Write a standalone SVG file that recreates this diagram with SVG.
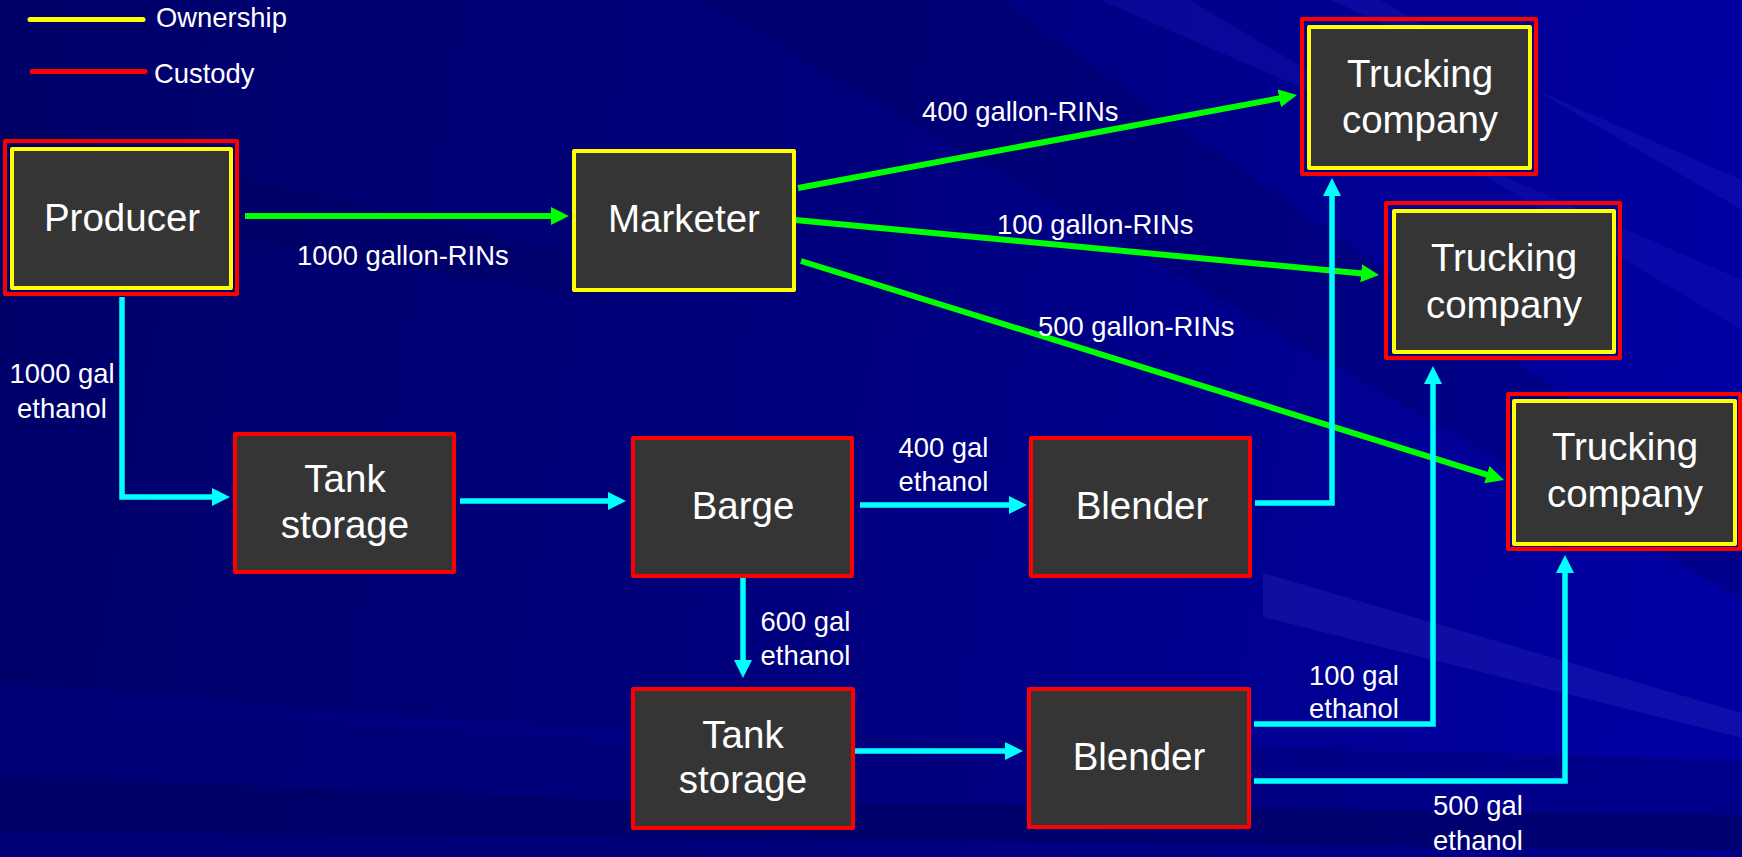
<svg xmlns="http://www.w3.org/2000/svg" width="1742" height="857" viewBox="0 0 1742 857">
<defs>
<linearGradient id="bg" x1="0" y1="0" x2="1742" y2="300" gradientUnits="userSpaceOnUse">
<stop offset="0" stop-color="#000068"/>
<stop offset="0.5" stop-color="#00007e"/>
<stop offset="1" stop-color="#0000a2"/>
</linearGradient>
<marker id="ag" markerUnits="userSpaceOnUse" markerWidth="18" markerHeight="18" refX="4" refY="9" orient="auto"><path d="M0,0 L18,9 L0,18 z" fill="#00ff00"/></marker>
<marker id="ac" markerUnits="userSpaceOnUse" markerWidth="18" markerHeight="18" refX="4" refY="9" orient="auto"><path d="M0,0 L18,9 L0,18 z" fill="#00ffff"/></marker>
<style>
.box{fill:#353535;}
.red{fill:none;stroke:#ff0000;stroke-width:4;stroke-linejoin:round;}
.yel{stroke:#ffff00;stroke-width:4;stroke-linejoin:round;}
.nt{font-family:"Liberation Sans",Arial,sans-serif;font-size:38.5px;fill:#ffffff;text-anchor:middle;}
.lt{font-family:"Liberation Sans",Arial,sans-serif;font-size:27.4px;fill:#ffffff;}
.mid{text-anchor:middle;}
.g{fill:none;stroke:#00ff00;stroke-width:6;marker-end:url(#ag);}
.c{fill:none;stroke:#00ffff;stroke-width:5.5;marker-end:url(#ac);}
</style>
</defs>
<g id="background">
<rect x="0" y="0" width="1742" height="857" fill="url(#bg)"/>
<polygon points="0,700 600,730 1742,760 1742,857 0,857" fill="#00007c" opacity="0.6"/>
<polygon points="0,776 600,799 1742,815 1742,850 600,837 0,832" fill="#000060" opacity="0.6"/>
<polygon points="0,682 600,730 1742,790 1742,800 600,740 0,700" fill="#0000a0" opacity="0.2"/>
<polygon points="1263,573 1742,713 1742,738 1263,617" fill="#3030c0" opacity="0.3"/>
<polygon points="1100,0 1190,0 1742,330 1742,280" fill="#2020c8" opacity="0.25"/>
<polygon points="1330,0 1380,0 1742,210 1742,180" fill="#2828d0" opacity="0.25"/>
<polygon points="700,0 1000,0 1742,520 1742,600" fill="#000050" opacity="0.25"/>
<polygon points="0,120 600,260 600,300 0,200" fill="#000050" opacity="0.2"/>
</g>
<g id="legend">
<line x1="30" y1="19.5" x2="143" y2="19.5" stroke="#ffff00" stroke-width="5" stroke-linecap="round"/>
<text class="lt" x="156" y="27">Ownership</text>
<line x1="32" y1="71.5" x2="145" y2="71.5" stroke="#ff0000" stroke-width="5" stroke-linecap="round"/>
<text class="lt" x="154" y="83">Custody</text>
</g>
<g id="connectors">
<line class="g" x1="245" y1="216" x2="555" y2="216"/>
<line class="g" x1="798" y1="188" x2="1283.2" y2="97.6"/>
<line class="g" x1="795" y1="220" x2="1365.1" y2="273.7"/>
<line class="g" x1="801" y1="261" x2="1490.6" y2="475.8"/>
<path class="c" d="M122,297 V497 H216"/>
<line class="c" x1="460" y1="501" x2="612" y2="501"/>
<line class="c" x1="860" y1="505" x2="1013" y2="505"/>
<line class="c" x1="743" y1="578" x2="743" y2="664"/>
<line class="c" x1="855" y1="751" x2="1009" y2="751"/>
<path class="c" d="M1255,503 H1332 V192"/>
<path class="c" d="M1254,724 H1433 V380"/>
<path class="c" d="M1254,781 H1565 V569"/>
</g>
<g id="labels">
<text class="lt" x="297" y="265">1000 gallon-RINs</text>
<text class="lt" x="922" y="121">400 gallon-RINs</text>
<text class="lt" x="997" y="234">100 gallon-RINs</text>
<text class="lt" x="1038" y="336">500 gallon-RINs</text>
<text class="lt mid" x="62" y="383">1000 gal</text>
<text class="lt mid" x="62" y="418">ethanol</text>
<text class="lt mid" x="943.5" y="457">400 gal</text>
<text class="lt mid" x="943.5" y="491">ethanol</text>
<text class="lt mid" x="805.5" y="631">600 gal</text>
<text class="lt mid" x="805.5" y="665">ethanol</text>
<text class="lt mid" x="1354" y="685">100 gal</text>
<text class="lt mid" x="1354" y="718">ethanol</text>
<text class="lt mid" x="1478" y="815">500 gal</text>
<text class="lt mid" x="1478" y="850">ethanol</text>
</g>
<g id="producer">
<rect class="red" x="5" y="141" width="232" height="153"/>
<rect class="box yel" x="12" y="149" width="219" height="139"/>
<text class="nt" x="122" y="231">Producer</text>
</g>
<g id="marketer">
<rect class="box yel" x="574" y="151" width="220" height="139"/>
<text class="nt" x="684" y="232">Marketer</text>
</g>
<g id="trucking1">
<rect class="red" x="1302" y="19" width="234" height="155"/>
<rect class="box yel" x="1309" y="27" width="221" height="141"/>
<text class="nt" x="1420" y="87">Trucking</text>
<text class="nt" x="1420" y="133">company</text>
</g>
<g id="trucking2">
<rect class="red" x="1386" y="203" width="234" height="155"/>
<rect class="box yel" x="1394" y="211" width="220" height="141"/>
<text class="nt" x="1504" y="271">Trucking</text>
<text class="nt" x="1504" y="318">company</text>
</g>
<g id="trucking3">
<rect class="red" x="1508" y="394" width="232" height="155"/>
<rect class="box yel" x="1514" y="401" width="221" height="143"/>
<text class="nt" x="1625" y="460">Trucking</text>
<text class="nt" x="1625" y="507">company</text>
</g>
<g id="tank1">
<rect class="box red" x="235" y="434" width="219" height="138" style="fill:#353535"/>
<text class="nt" x="345" y="492">Tank</text>
<text class="nt" x="345" y="538">storage</text>
</g>
<g id="barge">
<rect class="box red" x="633" y="438" width="219" height="138" style="fill:#353535"/>
<text class="nt" x="743" y="519">Barge</text>
</g>
<g id="blender1">
<rect class="box red" x="1031" y="438" width="219" height="138" style="fill:#353535"/>
<text class="nt" x="1142" y="519">Blender</text>
</g>
<g id="tank2">
<rect class="box red" x="633" y="689" width="220" height="139" style="fill:#353535"/>
<text class="nt" x="743" y="748">Tank</text>
<text class="nt" x="743" y="793">storage</text>
</g>
<g id="blender2">
<rect class="box red" x="1029" y="689" width="220" height="138" style="fill:#353535"/>
<text class="nt" x="1139" y="770">Blender</text>
</g>
</svg>
